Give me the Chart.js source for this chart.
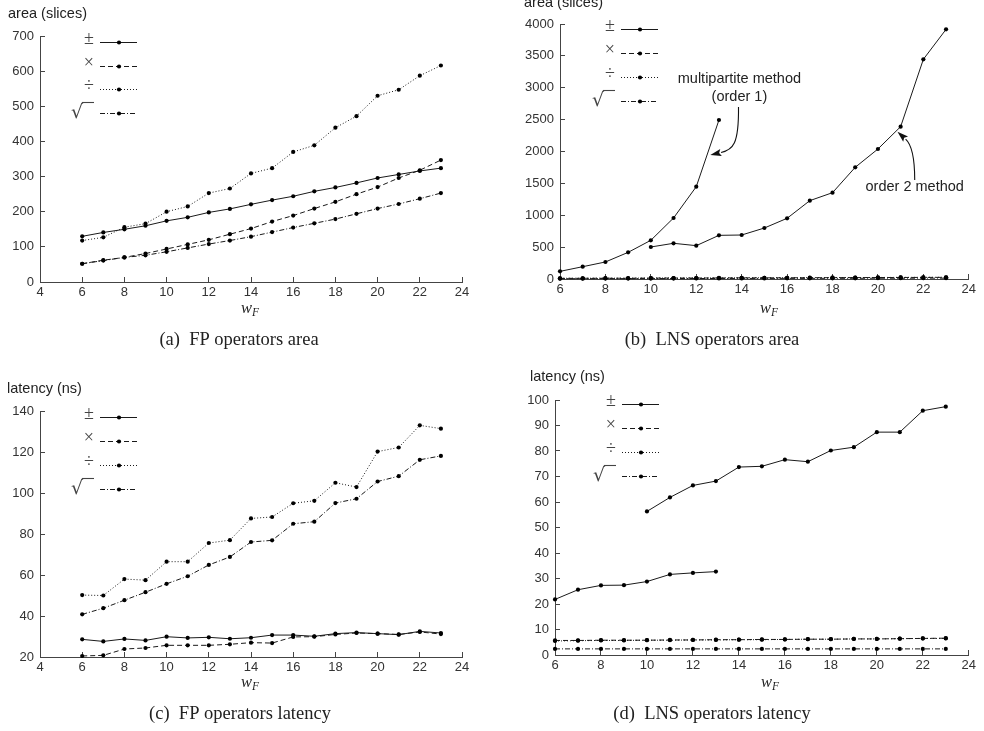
<!DOCTYPE html>
<html><head><meta charset="utf-8">
<script src="https://cdn.jsdelivr.net/npm/chart.js@4.4.1/dist/chart.umd.min.js"></script>
<style>
html,body{margin:0;padding:0;background:#fff;width:984px;height:731px;overflow:hidden}
.q{position:absolute}
canvas{display:block}
</style></head><body>
<div class="q" style="left:0;top:0"><canvas id="ca" width="492" height="365"></canvas></div>
<div class="q" style="left:492px;top:0"><canvas id="cb" width="492" height="365"></canvas></div>
<div class="q" style="left:0;top:365px"><canvas id="cc" width="492" height="366"></canvas></div>
<div class="q" style="left:492px;top:365px"><canvas id="cd" width="492" height="366"></canvas></div>
<script>
// ---------- data ----------
const wF = [6,7,8,9,10,11,12,13,14,15,16,17,18,19,20,21,22,23];
const opSymbols = ['±','×','÷','√'];

// (a) FP operators area (slices)
const fpAreaAdd  = [130,141,150,160,174,184,198,208,221,233,244,258,269,282,296,306,316,324];
const fpAreaMul  = [52,62,70,81,94,107,120,136,152,172,189,209,228,250,270,296,318,347];
const fpAreaDiv  = [118,127,156,166,200,215,253,266,309,324,370,389,439,472,530,547,587,616];
const fpAreaSqrt = [52,61,70,76,86,97,108,118,129,142,155,167,179,194,209,222,237,253];

// (b) LNS operators area (slices)
const lnsAreaAddOrder1 = [120,193,267,418,607,957,1448,2494,null,null,null,null,null,null,null,null,null,null];
const lnsAreaAddOrder2 = [null,null,null,null,502,560,523,685,690,800,952,1229,1354,1752,2039,2390,3446,3916];
const lnsAreaMul  = [10,11,12,12,14,15,15,16,18,18,19,20,21,22,23,24,25,26];
const lnsAreaDiv  = [11,12,13,13,15,16,16,17,19,19,20,21,22,23,24,25,26,27];
const lnsAreaSqrt = [5,5,6,6,7,7,8,8,9,9,10,10,11,11,12,12,13,13];

// (c) FP operators latency (ns)
const fpLatAdd  = [28.6,27.6,28.8,28.1,29.9,29.3,29.6,28.9,29.4,30.7,30.7,30.1,31.4,31.9,31.4,30.9,32.5,31.7];
const fpLatMul  = [20.5,20.8,23.9,24.4,25.7,25.7,25.7,26.2,27.0,26.8,29.8,29.9,31.0,31.7,31.4,31.0,32.2,31.2];
const fpLatDiv  = [50.2,50.0,58.0,57.5,66.5,66.5,75.6,77.0,87.6,88.3,95.0,96.2,105.0,102.9,120.2,122.2,133.0,131.4];
const fpLatSqrt = [40.8,43.8,47.7,51.6,55.7,59.4,64.9,68.8,76.1,76.9,85.0,86.0,95.1,97.2,105.6,108.2,116.2,118.1];

// (d) LNS operators latency (ns)
const lnsLatAddOrder1 = [21.8,25.6,27.3,27.4,28.8,31.6,32.2,32.7,null,null,null,null,null,null,null,null,null,null];
const lnsLatAddOrder2 = [null,null,null,null,56.3,61.8,66.5,68.2,73.7,74.0,76.6,75.8,80.2,81.5,87.4,87.4,95.8,97.4];
const lnsLatMul  = [5.7,5.7,5.8,5.8,5.8,5.9,5.9,6.0,6.0,6.1,6.1,6.2,6.2,6.3,6.3,6.4,6.5,6.6];
const lnsLatDiv  = [5.5,5.6,5.7,5.7,5.8,5.8,5.9,5.9,6.0,6.0,6.1,6.2,6.2,6.3,6.3,6.4,6.5,6.5];
const lnsLatSqrt = [2.4,2.4,2.4,2.4,2.4,2.4,2.4,2.4,2.4,2.4,2.4,2.4,2.4,2.4,2.4,2.4,2.4,2.4];

// tick ranges
const xTicksFP  = {min:4, max:24, step:2};
const xTicksLNS = {min:6, max:24, step:2};
const yTicksA = {min:0, max:700, step:100};
const yTicksB = {min:0, max:4000, step:500};
const yTicksC = {min:20, max:140, step:20};
const yTicksD = {min:0, max:100, step:10};

// annotations of (b), in data coordinates
const noteTexts = [
  {t:'multipartite method', x:13.9, y:3137},
  {t:'(order 1)', x:13.9, y:2855},
  {t:'order 2 method', x:21.62, y:1443}
];
const noteArrows = [
  [[13.86,2698],[13.88,2102],[13.6,2024],[12.62,1945]],
  [[21.62,1553],[21.62,2024],[21.36,2149],[20.86,2310]]
];

// ---------- styles ----------
const DASH = { add: [], mul: [5,3], div: [1,2], sqrt: [5,2,1,2] };

function pts(arr){ return wF.map((x,i)=>({x:x, y:arr[i]})); }
function ds(label, arr, dash, inLegend){
  return { label, data: pts(arr), borderColor:'#1a1a1a', backgroundColor:'#000',
    borderWidth:1, borderDash:dash, pointRadius:2.1, pointHoverRadius:2.1, pointBorderWidth:0,
    pointBackgroundColor:'#000', tension:0, spanGaps:false, clip:false, inLegend: inLegend };
}

const TICKFONT = {family:'"Liberation Sans", Arial, sans-serif', size:13};

const decoPlugin = {
  id:'deco',
  afterDraw(chart, args, o){
    const ctx = chart.ctx;
    ctx.save();
    ctx.fillStyle = '#222';
    // y title
    ctx.font = '14.5px "Liberation Sans", Arial, sans-serif';
    ctx.textAlign = 'left'; ctx.textBaseline = 'alphabetic';
    ctx.fillText(o.yTitle, o.yTitleX, o.yTitleY);
    // x title w_F
    ctx.font = 'italic 16.5px "Liberation Serif", serif';
    const ww = ctx.measureText('w').width;
    ctx.font = 'italic 11.5px "Liberation Serif", serif';
    const fw = ctx.measureText('F').width;
    const sx = o.xTitleX - (ww + fw)/2;
    ctx.font = 'italic 16.5px "Liberation Serif", serif';
    ctx.fillText('w', sx, o.xTitleY);
    ctx.font = 'italic 11.5px "Liberation Serif", serif';
    ctx.fillText('F', sx + ww, o.xTitleY + 3);
    // caption
    ctx.font = '18.5px "Liberation Serif", serif';
    ctx.textAlign = 'center';
    ctx.fillText(o.caption, o.capX, o.capY);
    // legend
    const items = chart.data.datasets.filter(d => d.inLegend);
    items.forEach((d, i) => {
      const y = Math.round(o.legY + i*o.legDy) + 0.5;
      const x0 = o.legX;
      ctx.strokeStyle = '#1a1a1a'; ctx.lineWidth = 1; ctx.setLineDash(d.borderDash);
      ctx.beginPath(); ctx.moveTo(x0, y); ctx.lineTo(x0 + 37, y); ctx.stroke();
      ctx.setLineDash([]);
      ctx.fillStyle = '#000';
      ctx.beginPath(); ctx.arc(x0 + 19, y, 2.1, 0, Math.PI*2); ctx.fill();
      ctx.fillStyle = '#444';
      if (d.label === '√') {
        ctx.font = '19px "DejaVu Serif", "Liberation Serif", serif';
        ctx.textAlign = 'right'; ctx.textBaseline = 'alphabetic';
        const rx = x0 - 17, by = y + 4;
        ctx.fillText('√', rx, by);
        const m = ctx.measureText('√');
        const top = Math.round(by - m.actualBoundingBoxAscent) + 0.5;
        ctx.strokeStyle = '#444'; ctx.lineWidth = 1.1;
        ctx.beginPath(); ctx.moveTo(rx - 1, top); ctx.lineTo(x0 - 6, top); ctx.stroke();
      } else {
        ctx.font = '18px "Liberation Serif", serif';
        ctx.textAlign = 'right'; ctx.textBaseline = 'middle';
        ctx.fillText(d.label, x0 - 6, y - 3);
      }
    });
    // annotations
    if (o.notes) {
      const xs = chart.scales.x, ys = chart.scales.y;
      const P = p => [xs.getPixelForValue(p[0]), ys.getPixelForValue(p[1])];
      ctx.fillStyle = '#222';
      ctx.font = '14.5px "Liberation Sans", Arial, sans-serif';
      ctx.textAlign = 'center'; ctx.textBaseline = 'middle';
      o.notes.texts.forEach(n => { const q = P([n.x, n.y]); ctx.fillText(n.t, q[0], q[1]); });
      ctx.strokeStyle = '#111'; ctx.lineWidth = 1.1; ctx.fillStyle = '#111';
      o.notes.arrows.forEach(a => {
        const [s, c1, c2, e] = a.map(P);
        const ang = Math.atan2(e[1] - c2[1], e[0] - c2[0]);
        const L = 11, W = 3.6;
        const bx = e[0] - L*Math.cos(ang), by = e[1] - L*Math.sin(ang);
        ctx.beginPath(); ctx.moveTo(s[0], s[1]);
        ctx.bezierCurveTo(c1[0], c1[1], c2[0], c2[1], bx, by); ctx.stroke();
        ctx.beginPath(); ctx.moveTo(e[0], e[1]);
        ctx.lineTo(bx + W*Math.sin(ang), by - W*Math.cos(ang));
        ctx.lineTo(bx + 2*Math.cos(ang), by + 2*Math.sin(ang));
        ctx.lineTo(bx - W*Math.sin(ang), by + W*Math.cos(ang));
        ctx.closePath(); ctx.fill();
      });
    }
    ctx.restore();
  }
};

function plain(v){ return String(v); }

function makeChart(id, datasets, xr, yr, lay, deco){
  new Chart(document.getElementById(id), {
    type:'line',
    data:{ datasets },
    options:{
      responsive:false, animation:false, events:[],
      layout:{ padding:{ left:0, right:lay.right, top:lay.top, bottom:lay.bottom } },
      plugins:{ legend:{display:false}, tooltip:{enabled:false}, title:{display:false}, deco },
      scales:{
        x:{ type:'linear', min:xr.min, max:xr.max,
            ticks:{ stepSize:xr.step, color:'#333', font:TICKFONT, padding:8, maxRotation:0, autoSkip:false, callback:plain },
            grid:{ drawOnChartArea:false, drawTicks:true, tickLength:-5, color:'#444', lineWidth:1 },
            border:{ display:true, color:'#444', width:1 },
            afterFit(s){ s.height = 20; } },
        y:{ type:'linear', min:yr.min, max:yr.max,
            ticks:{ stepSize:yr.step, color:'#333', font:TICKFONT, padding:11, autoSkip:false, callback:plain },
            grid:{ drawOnChartArea:false, drawTicks:true, tickLength:-5, color:'#444', lineWidth:1 },
            border:{ display:true, color:'#444', width:1 },
            afterFit(s){ s.width = lay.left; } }
      }
    },
    plugins:[decoPlugin]
  });
}

makeChart('ca', [
  ds(opSymbols[0], fpAreaAdd, DASH.add, true),
  ds(opSymbols[1], fpAreaMul, DASH.mul, true),
  ds(opSymbols[2], fpAreaDiv, DASH.div, true),
  ds(opSymbols[3], fpAreaSqrt, DASH.sqrt, true)
], xTicksFP, yTicksA, {left:40, right:30, top:36, bottom:63},
{ yTitle:'area (slices)', yTitleX:8, yTitleY:18, xTitleX:250, xTitleY:313,
  caption:'(a)  FP operators area', capX:239, capY:345, legX:100, legY:42, legDy:23.7 });

makeChart('cb', [
  ds(opSymbols[0], lnsAreaAddOrder1, DASH.add, true),
  ds(opSymbols[0], lnsAreaAddOrder2, DASH.add, false),
  ds(opSymbols[1], lnsAreaMul, DASH.mul, true),
  ds(opSymbols[2], lnsAreaDiv, DASH.div, true),
  ds(opSymbols[3], lnsAreaSqrt, DASH.sqrt, true)
], xTicksLNS, yTicksB, {left:68, right:8, top:24, bottom:66},
{ yTitle:'area (slices)', yTitleX:32, yTitleY:7, xTitleX:277, xTitleY:313,
  caption:'(b)  LNS operators area', capX:220, capY:345, legX:129, legY:29, legDy:24,
  notes:{ texts: noteTexts, arrows: noteArrows } });

makeChart('cc', [
  ds(opSymbols[0], fpLatAdd, DASH.add, true),
  ds(opSymbols[1], fpLatMul, DASH.mul, true),
  ds(opSymbols[2], fpLatDiv, DASH.div, true),
  ds(opSymbols[3], fpLatSqrt, DASH.sqrt, true)
], xTicksFP, yTicksC, {left:40, right:30, top:46, bottom:54},
{ yTitle:'latency (ns)', yTitleX:7, yTitleY:28, xTitleX:250, xTitleY:322,
  caption:'(c)  FP operators latency', capX:240, capY:354, legX:100, legY:52, legDy:24 });

makeChart('cd', [
  ds(opSymbols[0], lnsLatAddOrder1, DASH.add, true),
  ds(opSymbols[0], lnsLatAddOrder2, DASH.add, false),
  ds(opSymbols[1], lnsLatMul, DASH.mul, true),
  ds(opSymbols[2], lnsLatDiv, DASH.div, true),
  ds(opSymbols[3], lnsLatSqrt, DASH.sqrt, true)
], xTicksLNS, yTicksD, {left:63, right:8, top:35, bottom:56},
{ yTitle:'latency (ns)', yTitleX:38, yTitleY:16, xTitleX:278, xTitleY:322,
  caption:'(d)  LNS operators latency', capX:220, capY:354, legX:130, legY:39, legDy:24 });
</script>
</body></html>
